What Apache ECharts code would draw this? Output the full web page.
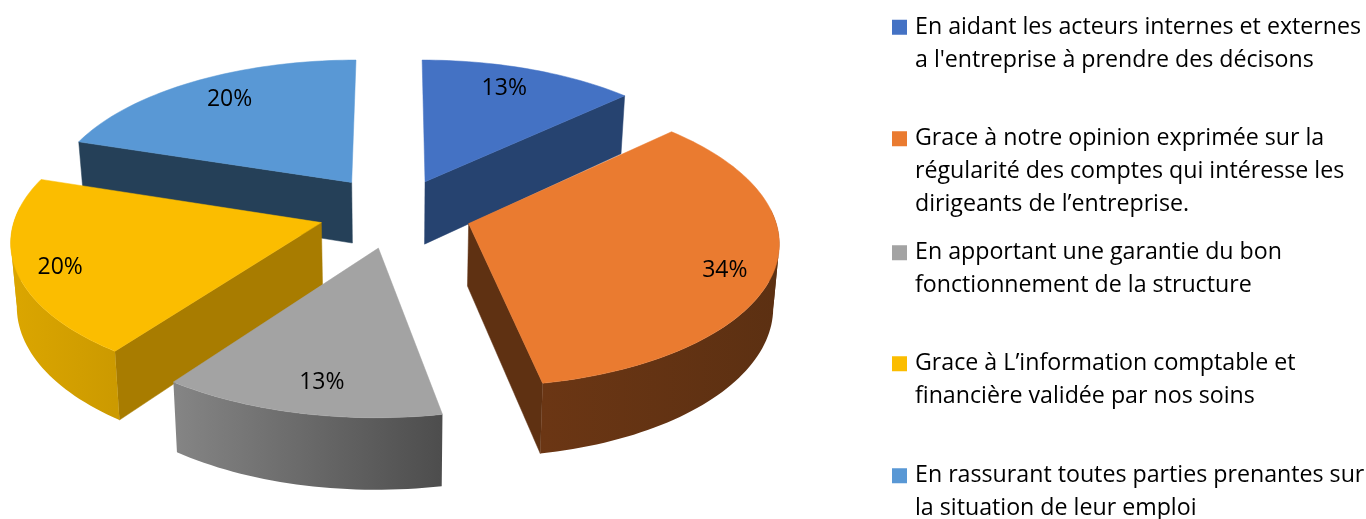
<!DOCTYPE html>
<html lang="fr">
<head>
<meta charset="utf-8">
<title>Camembert 3D</title>
<style>
  html, body { margin: 0; padding: 0; background: #fff; }
  #chart { width: 1366px; height: 519px; }
</style>
<script src="https://cdn.jsdelivr.net/npm/echarts@6/dist/echarts.min.js"></script>
</head>
<body>
<div id="chart"></div>
<script>
// Categories, clockwise from twelve o'clock
const categories = [
  "En aidant les acteurs internes et externes\na l'entreprise à prendre des décisons",
  "Grace à notre opinion exprimée sur la\nrégularité des comptes qui intéresse les\ndirigeants de l’entreprise.",
  "En apportant une garantie du bon\nfonctionnement de la structure",
  "Grace à L’information comptable et\nfinancière validée par nos soins",
  "En rassurant toutes parties prenantes sur\nla situation de leur emploi"
];
const shares = [13, 34, 13, 20, 20];

// Face colours per slice
const topColors = ['#4472C4', '#EA7B30', '#A3A3A3', '#FBBD00', '#5998D5'];
const cutColors = ['#264370', '#5F3112', '#4E4E4E', '#A87C00', '#254058'];
const rimColors = [
  ['#264478', '#264478'],
  ['#6B3614', '#5C3012'],
  ['#858585', '#4D4D4D'],
  ['#DBA600', '#CC9A00'],
  ['#254058', '#254058']
];

// Back slices are painted first so the nearer ones overlap them
const paintOrder = [4, 0, 3, 1, 2];

// Layout tweaks per slice, in pixels
const sliceShift = [[0, 1], [0, 0], [0, 0], [-1, -1], [0, -2]];
const sliceDepth = [64, 62, 62, 62, 62];
const labelShift = [[-8, 1], [7, 9], [7, 2], [-12, 7], [9, 1]];
const legendTops = [11, 122.5, 236.5, 347.5, 459.5];

// Projection of the unit disc onto the screen
const view = {
  x0: 395.5, y0: 212.5, scaleX: 305, scaleY: 142,
  perspective: 0.112, explode: 0.25, taper: 0.016, labelRadius: 0.82
};

function project(px, py, depth) {
  const w = 1 + view.perspective * py;
  let x = view.x0 + view.scaleX * px / w;
  let y = view.y0 - view.scaleY * py / w;
  if (depth) {
    x = view.x0 + (x - view.x0) * (1 - view.taper);
    y += depth / w;
  }
  return [x, y];
}

const total = shares.reduce((a, b) => a + b, 0);
const sliceAngles = [];
shares.reduce((acc, v) => {
  sliceAngles.push([acc / total * 2 * Math.PI, (acc + v) / total * 2 * Math.PI]);
  return acc + v;
}, 0);

function renderSlice(index) {
  const [a0, a1] = sliceAngles[index];
  const mid = (a0 + a1) / 2;
  const ox = view.explode * Math.sin(mid);
  const oy = view.explode * Math.cos(mid);
  const steps = Math.max(8, Math.round((a1 - a0) * 40));
  const rim = [];
  const frontRim = [];
  for (let i = 0; i <= steps; i++) {
    const a = a0 + (a1 - a0) * i / steps;
    const point = [ox + Math.sin(a), oy + Math.cos(a)];
    rim.push(point);
    // The far side of the outer wall never shows
    if (Math.cos(a) < 0.12) frontRim.push(point);
  }
  const [sx, sy] = sliceShift[index];
  const moved = q => [q[0] + sx, q[1] + sy];
  const top = p => moved(project(p[0], p[1], 0));
  const low = p => moved(project(p[0], p[1], sliceDepth[index]));
  const first = rim[0], last = rim[rim.length - 1], apex = [ox, oy];
  const flat = fill => ({ fill, stroke: fill, lineWidth: 0.5 });
  const wall = pts => ({ type: 'polygon', shape: { points: pts }, style: flat(cutColors[index]) });

  // Only the radial walls turned towards the viewer are drawn
  const cuts = [];
  if (Math.sin(a0) < -0.01) cuts.push(wall([top(apex), top(first), low(first), low(apex)]));
  if (Math.sin(a1) > 0.01) cuts.push(wall([top(apex), top(last), low(last), low(apex)]));

  // The outer wall is cut where the rim turns back in x, so each strip stays a simple polygon
  const rimXs = rim.map(p => top(p)[0]);
  const frontXs = frontRim.map(p => top(p)[0]);
  const [rimA, rimB] = rimColors[index];
  const rimFill = {
    type: 'linear', global: true,
    x: Math.min(...rimXs), y: 0, x2: Math.max(...rimXs), y2: 0,
    colorStops: [{ offset: 0, color: rimA }, { offset: 1, color: rimB }]
  };
  const strips = [];
  let start = 0;
  for (let i = 1; i < frontRim.length; i++) {
    const turning = i < frontRim.length - 1 &&
      (frontXs[i] - frontXs[i - 1]) * (frontXs[i + 1] - frontXs[i]) < 0;
    if (turning || i === frontRim.length - 1) {
      const part = frontRim.slice(start, i + 1);
      strips.push({
        type: 'polygon',
        shape: { points: part.map(top).concat(part.slice().reverse().map(low)) },
        style: { fill: rimFill }
      });
      start = i;
    }
  }

  const lr = view.labelRadius;
  const labelPos = top([ox + lr * Math.sin(mid), oy + lr * Math.cos(mid)]);

  return {
    type: 'group',
    children: [
      ...cuts,
      ...strips,
      {
        type: 'polygon',
        shape: { points: [top(apex)].concat(rim.map(top)) },
        style: flat(topColors[index])
      },
      {
        type: 'text',
        x: labelPos[0] + labelShift[index][0], y: labelPos[1] + labelShift[index][1],
        style: {
          text: shares[index] + '%',
          fill: '#000', align: 'center', verticalAlign: 'middle',
          font: '23px "Open Sans", sans-serif'
        }
      }
    ]
  };
}

// Legend marker: a square beside the first text line, inside a box as tall as the text
const LINE_HEIGHT = 32.7;
function legendMarker(lineCount) {
  const h = lineCount * LINE_HEIGHT;
  const y = LINE_HEIGHT / 2 - 7.5;
  return 'path://M0 0L18 0Z M18 ' + h + 'L0 ' + h + 'Z ' +
    'M0 ' + y + 'L15 ' + y + 'L15 ' + (y + 15) + 'L0 ' + (y + 15) + 'Z';
}

const chart = echarts.init(document.getElementById('chart'), null, { renderer: 'canvas' });
chart.setOption({
  animation: false,
  backgroundColor: '#fff',
  legend: categories.map((name, i) => {
    const lines = name.split('\n').length;
    return {
      data: [name],
      left: 892,
      top: legendTops[i],
      padding: 0,
      selectedMode: false,
      icon: legendMarker(lines),
      itemWidth: 18,
      itemHeight: lines * LINE_HEIGHT,
      itemGap: 0,
      textStyle: {
        fontFamily: '"Open Sans", sans-serif',
        fontSize: 23.2,
        lineHeight: LINE_HEIGHT,
        color: '#000'
      }
    };
  }),
  series: paintOrder.map(i => ({
    type: 'custom',
    name: categories[i],
    coordinateSystem: 'none',
    itemStyle: { color: topColors[i] },
    data: [shares[i]],
    renderItem: () => renderSlice(i)
  }))
});
</script>
</body>
</html>
